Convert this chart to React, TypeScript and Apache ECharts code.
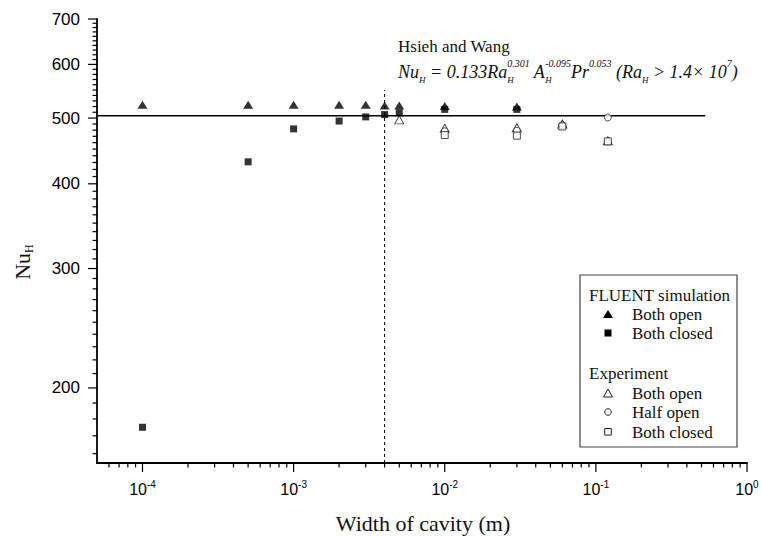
import React, { useEffect, useRef } from "react";
import * as echarts from "echarts";

const SERIF = '"Liberation Serif", "Times New Roman", serif';
const SANS = '"Liberation Sans", Arial, sans-serif';

// ---- data ----
const fluentX = [1e-4, 5e-4, 1e-3, 2e-3, 3e-3, 4e-3, 5e-3, 1e-2, 3e-2];
const fluentBothOpen = [523, 523, 523, 523, 523, 522, 522, 521, 520];
const fluentBothClosed = [175, 431, 482, 495, 502, 506, 509, 515, 515];

const expOpenX = [5e-3, 1e-2, 3e-2, 6e-2, 0.12];
const expBothOpen = [497, 483, 484, 490, 463];
const expHalfX = [1e-2, 3e-2, 6e-2, 0.12];
const expHalfOpen = [478, 479, 488, 501];
const expClosedX = [1e-2, 3e-2, 6e-2, 0.12];
const expBothClosed = [472, 471, 486, 462];

const correlationX = [5e-5, 0.53];
const correlationNu = 504;
const cavityLineX = 0.004;
const cavityLineNu = [155, 550];

// ---- axes ----
const xMin = 5e-5;
const xMax = 1;
const yMin = 155;
const yMax = 700;
const xMajorTicks = [1e-4, 1e-3, 1e-2, 1e-1, 1];
const xTickExponents = ["-4", "-3", "-2", "-1", "0"];
const xMinorMantissas = [2, 3, 4, 5, 6, 7, 8, 9];
const xMinorDecades = [-5, -4, -3, -2, -1];
const yMajorTicks = [200, 300, 400, 500, 600, 700];

function buildXTicks() {
  const out: number[][] = [];
  xMajorTicks.forEach((v, i) => out.push([v, yMin, 1, i]));
  xMinorDecades.forEach((d) =>
    xMinorMantissas.forEach((m) => {
      const v = m * Math.pow(10, d);
      if (v > xMin * 1.01 && v < xMax) out.push([v, yMin, 0, -1]);
    })
  );
  return out;
}
function buildYTicks() {
  const out: number[][] = [];
  yMajorTicks.forEach((v) => out.push([xMin, v, 1]));
  for (let v = 160; v < yMax; v += 10) {
    if (v % 100 !== 0) out.push([xMin, v, 0]);
  }
  return out;
}

const pairs = (xs: number[], ys: number[]) => xs.map((x, i) => [x, ys[i]]);

export default function App() {
  const ref = useRef<HTMLDivElement>(null);
  useEffect(() => {
    if (!ref.current) return;
    const chart = echarts.init(ref.current, null, { renderer: "svg" });

    const axisCommon = {
      type: "log",
      logBase: 10,
      axisLine: { show: true, onZero: false, lineStyle: { color: "#000", width: 1.8 } },
      axisTick: { show: false },
      axisLabel: { show: false },
      splitLine: { show: false },
      minorTick: { show: false },
      minorSplitLine: { show: false },
    };

    const supRich = {
      b: { fontSize: 16, fontFamily: SANS, fill: "#000" },
      s: { fontSize: 10, fontFamily: SANS, fill: "#000", padding: [0, 0, 9, 0] },
    };

    const fRich: any = {
      m: { fontSize: 18, fontFamily: SERIF, fontStyle: "italic", fill: "#111" },
      sb: { fontSize: 9, fontFamily: SERIF, fontStyle: "italic", fill: "#111", padding: [16, 0, 0, 0] },
      sbz: { fontSize: 9, fontFamily: SERIF, fontStyle: "italic", fill: "#111", padding: [16, 0, 0, 0], width: 0.01 },
      sp: { fontSize: 10, fontFamily: SERIF, fontStyle: "italic", fill: "#111", padding: [0, 0, 18, 0] },
    };
    const formula =
      "{m|Nu}{sb|H}{m| = 0.133Ra}{sbz|H}{sp|0.301}{m| A}{sbz|H}{sp|-0.095}{m|Pr}{sp|0.053}{m| (Ra}{sb|H}{m| > 1.4× 10}{sp|7}{m|)}";

    const txt = (x: number, y: number, text: string, size: number, align = "left") => ({
      type: "text",
      x,
      y,
      silent: true,
      style: {
        text,
        fontSize: size,
        fontFamily: SERIF,
        fill: "#111",
        align,
        verticalAlign: "middle",
        textAlign: align,
        textVerticalAlign: "middle",
      },
    });

    const mx = 608;
    const markStroke = { fill: "#fff", stroke: "#222", lineWidth: 1 };

    const option: any = {
      animation: false,
      grid: { left: 97, right: 15, top: 19, bottom: 74, containLabel: false, outerBoundsMode: "none" },
      xAxis: { ...axisCommon, min: xMin, max: xMax },
      yAxis: { ...axisCommon, min: yMin, max: yMax },
      series: [
        {
          type: "line",
          data: correlationX.map((x) => [x, correlationNu]),
          symbol: "none",
          lineStyle: { color: "#000", width: 1.3 },
          silent: true,
          z: 1,
        },
        {
          type: "line",
          data: cavityLineNu.map((y) => [cavityLineX, y]),
          symbol: "none",
          lineStyle: { color: "#000", width: 1, type: [3, 3] },
          silent: true,
          z: 1,
        },
        {
          name: "Exp both open",
          type: "scatter",
          data: pairs(expOpenX, expBothOpen),
          symbol: "triangle",
          symbolSize: [9, 8],
          itemStyle: { color: "#fff", borderColor: "#222", borderWidth: 1 },
          z: 2,
        },
        {
          name: "Exp half open",
          type: "scatter",
          data: pairs(expHalfX, expHalfOpen),
          symbol: "circle",
          symbolSize: 7,
          itemStyle: { color: "#fff", borderColor: "#222", borderWidth: 1 },
          z: 2,
        },
        {
          name: "Exp both closed",
          type: "scatter",
          data: pairs(expClosedX, expBothClosed),
          symbol: "rect",
          symbolSize: 7,
          itemStyle: { color: "#fff", borderColor: "#222", borderWidth: 1 },
          z: 2,
        },
        {
          name: "FLUENT both open",
          type: "scatter",
          data: pairs(fluentX, fluentBothOpen),
          symbol: "triangle",
          symbolSize: [10, 8],
          itemStyle: { color: "#000" },
          z: 3,
        },
        {
          name: "FLUENT both closed",
          type: "scatter",
          data: pairs(fluentX, fluentBothClosed),
          symbol: "rect",
          symbolSize: 7,
          itemStyle: { color: "#000" },
          z: 3,
        },
        {
          type: "custom",
          silent: true,
          clip: false,
          z: 5,
          data: buildYTicks(),
          renderItem: (params: any, api: any) => {
            const v = api.value(1);
            const major = api.value(2) === 1;
            const p = api.coord([xMin, v]);
            const x0 = params.coordSys.x;
            const children: any[] = [
              {
                type: "line",
                shape: { x1: x0 - (major ? 9 : 4.5), y1: p[1], x2: x0, y2: p[1] },
                style: { stroke: "#000", lineWidth: 1.2 },
              },
            ];
            if (major) {
              children.push({
                type: "text",
                x: x0 - 17,
                y: p[1],
                style: {
                  text: String(v),
                  fontSize: 17,
                  fontFamily: SANS,
                  fill: "#000",
                  align: "right",
                  verticalAlign: "middle",
                  textAlign: "right",
                  textVerticalAlign: "middle",
                },
              });
            }
            return { type: "group", children };
          },
        },
        {
          type: "custom",
          silent: true,
          clip: false,
          z: 5,
          data: buildXTicks(),
          renderItem: (params: any, api: any) => {
            const v = api.value(0);
            const major = api.value(2) === 1;
            const idx = api.value(3);
            const p = api.coord([v, yMin]);
            const y0 = params.coordSys.y + params.coordSys.height;
            const children: any[] = [
              {
                type: "line",
                shape: { x1: p[0], y1: y0, x2: p[0], y2: y0 + (major ? 9 : 4.5) },
                style: { stroke: "#000", lineWidth: 1.2 },
              },
            ];
            if (major) {
              children.push({
                type: "text",
                x: p[0],
                y: y0 + 26,
                style: {
                  text: "{b|10}{s|" + xTickExponents[idx] + "}",
                  rich: supRich,
                  fill: "#000",
                  align: "center",
                  verticalAlign: "middle",
                  textAlign: "center",
                  textVerticalAlign: "middle",
                },
              });
            }
            return { type: "group", children };
          },
        },
      ],
      graphic: [
        // axis titles
        txt(423, 523, "Width of cavity (m)", 22, "center"),
        {
          type: "text",
          x: 22,
          y: 262,
          rotation: Math.PI / 2,
          silent: true,
          style: {
            text: "{m|Nu}{s|H}",
            rich: {
              m: { fontSize: 22, fontFamily: SERIF, fill: "#111" },
              s: { fontSize: 12, fontFamily: SERIF, fill: "#111", padding: [14, 0, 0, 0] },
            },
            align: "center",
            verticalAlign: "middle",
            textAlign: "center",
            textVerticalAlign: "middle",
          },
        },
        // correlation annotation
        txt(398, 46, "Hsieh and Wang", 17),
        {
          type: "text",
          x: 398,
          y: 72,
          silent: true,
          style: {
            text: formula,
            rich: fRich,
            fill: "#111",
            align: "left",
            verticalAlign: "middle",
            textAlign: "left",
            textVerticalAlign: "middle",
          },
        },
        // legend box
        {
          type: "rect",
          silent: true,
          shape: { x: 580, y: 275, width: 157, height: 172 },
          style: { fill: "#fff", stroke: "#444", lineWidth: 1.2 },
        },
        txt(589, 295, "FLUENT simulation", 17),
        txt(632, 314, "Both open", 17),
        txt(632, 333, "Both closed", 17),
        txt(589, 373, "Experiment", 17),
        txt(632, 393, "Both open", 17),
        txt(632, 412, "Half open", 17),
        txt(632, 432, "Both closed", 17),
        {
          type: "polygon",
          silent: true,
          shape: { points: [[mx - 5, 318], [mx + 5, 318], [mx, 310]] },
          style: { fill: "#000" },
        },
        {
          type: "rect",
          silent: true,
          shape: { x: mx - 3.5, y: 329.5, width: 7, height: 7 },
          style: { fill: "#000" },
        },
        {
          type: "polygon",
          silent: true,
          shape: { points: [[mx - 4.5, 397], [mx + 4.5, 397], [mx, 389]] },
          style: markStroke,
        },
        {
          type: "circle",
          silent: true,
          shape: { cx: mx, cy: 412, r: 3.3 },
          style: markStroke,
        },
        {
          type: "rect",
          silent: true,
          shape: { x: mx - 3.3, y: 428.5, width: 6.6, height: 6.6 },
          style: markStroke,
        },
      ],
    };

    chart.setOption(option);
    return () => chart.dispose();
  }, []);

  return (
    <div
      ref={ref}
      style={{ position: "fixed", left: 0, top: 0, width: 762, height: 537, background: "#fff" }}
    />
  );
}
